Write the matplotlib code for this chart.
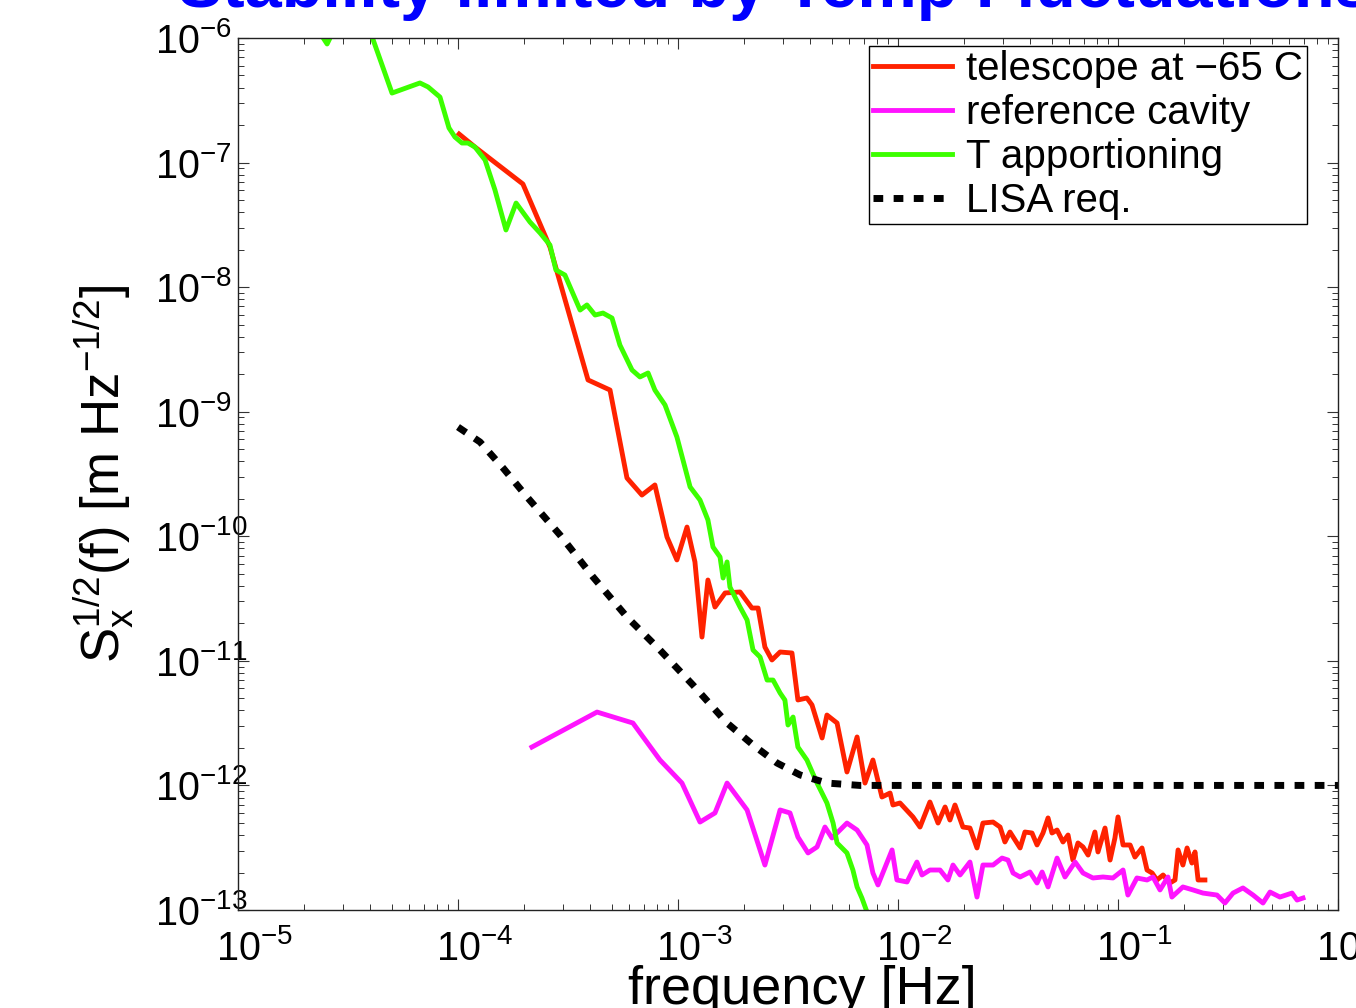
import numpy as np
import matplotlib
matplotlib.use('Agg')
import matplotlib.pyplot as plt
from matplotlib.transforms import ScaledTranslation
from matplotlib.ticker import NullFormatter

plt.rcParams['font.family'] = ['Liberation Sans', 'DejaVu Sans']
plt.rcParams['mathtext.fontset'] = 'custom'
plt.rcParams['mathtext.rm'] = 'Liberation Sans'
plt.rcParams['mathtext.it'] = 'Liberation Sans:italic'
plt.rcParams['mathtext.bf'] = 'Liberation Sans:bold'
plt.rcParams['mathtext.default'] = 'regular'

# all series as log10(frequency [Hz]) / log10(S_x^1/2 [m/rtHz])
# telescope at -65 C
red_logf = [-3.995, -3.923, -3.705, -3.582, -3.409, -3.309, -3.232, -3.164, -3.105, -3.050,
            -3.005, -2.959, -2.923, -2.891, -2.864, -2.832, -2.786, -2.718, -2.664, -2.636,
            -2.605, -2.573, -2.536, -2.482, -2.455, -2.414, -2.391, -2.345, -2.323, -2.277,
            -2.232, -2.186, -2.150, -2.114, -2.073, -2.036, -2.023, -1.991, -1.932, -1.900,
            -1.855, -1.818, -1.786, -1.764, -1.741, -1.705, -1.673, -1.641, -1.614, -1.568,
            -1.536, -1.514, -1.491, -1.445, -1.423, -1.391, -1.368, -1.341, -1.318, -1.300,
            -1.277, -1.250, -1.227, -1.205, -1.182, -1.159, -1.136, -1.105, -1.091, -1.059,
            -1.036, -1.014, -1.000, -0.977, -0.945, -0.923, -0.891, -0.868, -0.845, -0.823,
            -0.795, -0.764, -0.741, -0.727, -0.705, -0.686, -0.664, -0.650, -0.636, -0.605]
red_logs = [-6.771, -6.875, -7.172, -7.678, -8.745, -8.826, -9.532, -9.669, -9.588, -10.006,
            -10.190, -9.926, -10.206, -10.809, -10.351, -10.568, -10.455, -10.447, -10.576, -10.576,
            -10.889, -10.993, -10.929, -10.937, -11.314, -11.298, -11.354, -11.619, -11.435, -11.499,
            -11.892, -11.611, -11.981, -11.796, -12.093, -12.061, -12.157, -12.141, -12.253, -12.334,
            -12.133, -12.302, -12.173, -12.278, -12.157, -12.334, -12.342, -12.502, -12.302, -12.294,
            -12.334, -12.454, -12.374, -12.502, -12.374, -12.382, -12.478, -12.382, -12.261, -12.382,
            -12.358, -12.454, -12.398, -12.599, -12.462, -12.494, -12.559, -12.374, -12.534, -12.342,
            -12.599, -12.422, -12.253, -12.478, -12.478, -12.575, -12.502, -12.679, -12.703, -12.759,
            -12.719, -12.783, -12.759, -12.518, -12.639, -12.502, -12.623, -12.534, -12.759, -12.759]

# reference cavity
mag_logf = [-3.664, -3.368, -3.205, -3.082, -2.982, -2.900, -2.832, -2.777, -2.686, -2.605,
            -2.536, -2.491, -2.455, -2.409, -2.368, -2.332, -2.300, -2.232, -2.186, -2.141,
            -2.114, -2.091, -2.027, -2.005, -1.959, -1.914, -1.891, -1.855, -1.809, -1.773,
            -1.750, -1.718, -1.673, -1.641, -1.614, -1.568, -1.527, -1.500, -1.477, -1.445,
            -1.400, -1.368, -1.345, -1.318, -1.277, -1.241, -1.195, -1.159, -1.114, -1.068,
            -1.023, -0.977, -0.955, -0.914, -0.868, -0.841, -0.809, -0.773, -0.755, -0.705,
            -0.659, -0.614, -0.550, -0.514, -0.477, -0.432, -0.386, -0.341, -0.309, -0.264,
            -0.209, -0.186, -0.159]
mag_logs = [-11.692, -11.411, -11.499, -11.796, -11.981, -12.294, -12.221, -11.981, -12.197, -12.639,
            -12.197, -12.221, -12.414, -12.542, -12.494, -12.334, -12.422, -12.302, -12.358, -12.478,
            -12.703, -12.799, -12.518, -12.759, -12.775, -12.615, -12.719, -12.679, -12.679, -12.759,
            -12.639, -12.719, -12.615, -12.896, -12.639, -12.639, -12.583, -12.599, -12.703, -12.735,
            -12.695, -12.783, -12.695, -12.815, -12.583, -12.735, -12.615, -12.703, -12.743, -12.735,
            -12.743, -12.679, -12.880, -12.743, -12.759, -12.735, -12.839, -12.735, -12.896, -12.815,
            -12.839, -12.864, -12.880, -12.944, -12.864, -12.823, -12.880, -12.944, -12.856, -12.896,
            -12.864, -12.920, -12.904]

# T apportioning
grn_logf = [-4.636, -4.595, -4.564, -4.482, -4.300, -4.173, -4.136, -4.082, -4.041, -4.014,
            -3.982, -3.955, -3.923, -3.877, -3.832, -3.782, -3.736, -3.673, -3.627, -3.582,
            -3.555, -3.514, -3.445, -3.414, -3.377, -3.341, -3.300, -3.264, -3.209, -3.173,
            -3.136, -3.105, -3.059, -3.005, -2.945, -2.900, -2.864, -2.841, -2.809, -2.795,
            -2.777, -2.764, -2.718, -2.686, -2.659, -2.627, -2.595, -2.568, -2.536, -2.514,
            -2.500, -2.477, -2.455, -2.414, -2.368, -2.323, -2.295, -2.277, -2.232, -2.205,
            -2.186, -2.164, -2.141]
grn_logs = [-5.936, -6.048, -5.936, -5.534, -6.442, -6.361, -6.393, -6.474, -6.722, -6.795,
            -6.843, -6.843, -6.875, -6.979, -7.220, -7.541, -7.325, -7.477, -7.565, -7.662,
            -7.862, -7.903, -8.184, -8.143, -8.224, -8.208, -8.248, -8.465, -8.665, -8.721,
            -8.689, -8.826, -8.946, -9.203, -9.604, -9.709, -9.869, -10.086, -10.166, -10.335,
            -10.206, -10.407, -10.568, -10.672, -10.913, -10.969, -11.154, -11.154, -11.258, -11.315,
            -11.515, -11.451, -11.692, -11.796, -11.981, -12.141, -12.302, -12.462, -12.542, -12.679,
            -12.815, -12.904, -13.016]

# LISA requirement
lisa_logf = [-4.0, -3.900, -3.795, -3.686, -3.536, -3.386, -3.232, -3.082, -2.932, -2.777,
             -2.659, -2.550, -2.445, -2.323, -2.173, 0.0]
lisa_logs = [-9.123, -9.243, -9.452, -9.685, -9.990, -10.327, -10.648, -10.913, -11.194, -11.499,
             -11.675, -11.820, -11.916, -11.981, -12.0, -12.0]

xticks = [1e-5, 1e-4, 1e-3, 1e-2, 1e-1, 1e0]
xticklabels = ['$10^{-5}$', '$10^{-4}$', '$10^{-3}$', '$10^{-2}$', '$10^{-1}$', '$10^{0}$']
yticks = [1e-13, 1e-12, 1e-11, 1e-10, 1e-9, 1e-8, 1e-7, 1e-6]
yticklabels = ['$10^{-13}$', '$10^{-12}$', '$10^{-11}$', '$10^{-10}$',
               '$10^{-9}$', '$10^{-8}$', '$10^{-7}$', '$10^{-6}$']

W, H = 1356, 1008
fig = plt.figure(figsize=(W / 100, H / 100), dpi=100)
ax = fig.add_axes([238 / W, 1 - 910 / H, 1100 / W, 872 / H])

lw = 3.5
ax.loglog(10 ** np.array(red_logf), 10 ** np.array(red_logs), color='#ff2200', lw=lw,
          label='telescope at \u221265 C')
ax.loglog(10 ** np.array(mag_logf), 10 ** np.array(mag_logs), color='#ff14ff', lw=lw,
          label='reference cavity')
ax.loglog(10 ** np.array(grn_logf), 10 ** np.array(grn_logs), color='#3cff00', lw=lw,
          label='T apportioning')
ax.loglog(10 ** np.array(lisa_logf), 10 ** np.array(lisa_logs), color='black', lw=5.0,
          dashes=(1.4, 1.5), dash_capstyle='butt', label='LISA req.')

ax.set_xlim(1e-5, 1)
ax.set_ylim(1e-13, 1e-6)

for s in ax.spines.values():
    s.set_linewidth(1.0)
    s.set_color('#222222')

ax.tick_params(which='both', direction='in', top=True, right=True, color='#333333')
ax.tick_params(which='major', length=8, width=0.8)
ax.tick_params(which='minor', length=4.5, width=0.7)
ax.tick_params(axis='x', which='major', pad=14, labelsize=28.5)
ax.tick_params(axis='y', which='major', pad=60, labelsize=28.5)
ax.xaxis.set_minor_formatter(NullFormatter())
ax.yaxis.set_minor_formatter(NullFormatter())

ax.set_xticks(xticks)
ax.set_xticklabels(xticklabels, ha='left', va='top')
ax.set_yticks(yticks)
ax.set_yticklabels(yticklabels, ha='left', va='baseline')

# matlab lines up the "10", not the whole label
for t in ax.xaxis.get_major_ticks():
    t.label1.set_transform(t.label1.get_transform() + ScaledTranslation(-0.22, 0, fig.dpi_scale_trans))
for t in ax.yaxis.get_major_ticks():
    t.label1.set_transform(t.label1.get_transform() + ScaledTranslation(0, -0.15, fig.dpi_scale_trans))

ax.set_xlabel('frequency [Hz]', fontsize=39, va='baseline')
ax.xaxis.set_label_coords(0.513, -0.108)
ax.set_ylabel(r'$S_x^{1/2}(f)\ [m\ Hz^{-1/2}]$', fontsize=38)
ax.yaxis.set_label_coords(-0.093, 0.5)

leg = ax.legend(loc='upper right', bbox_to_anchor=(0.972, 0.9908), borderaxespad=0,
                fontsize=29, handlelength=1.95, handletextpad=0.36, borderpad=0.1,
                labelspacing=0.15, fancybox=False, framealpha=1, edgecolor='black')
leg.get_frame().set_linewidth(1.0)

fig.text(178 / W, 1 - 7 / H, 'Stability limited by Temp Fluctuations', fontsize=48,
         fontweight='bold', color='#0000ff', ha='left', va='baseline')

fig.savefig('out.png', dpi=100)
